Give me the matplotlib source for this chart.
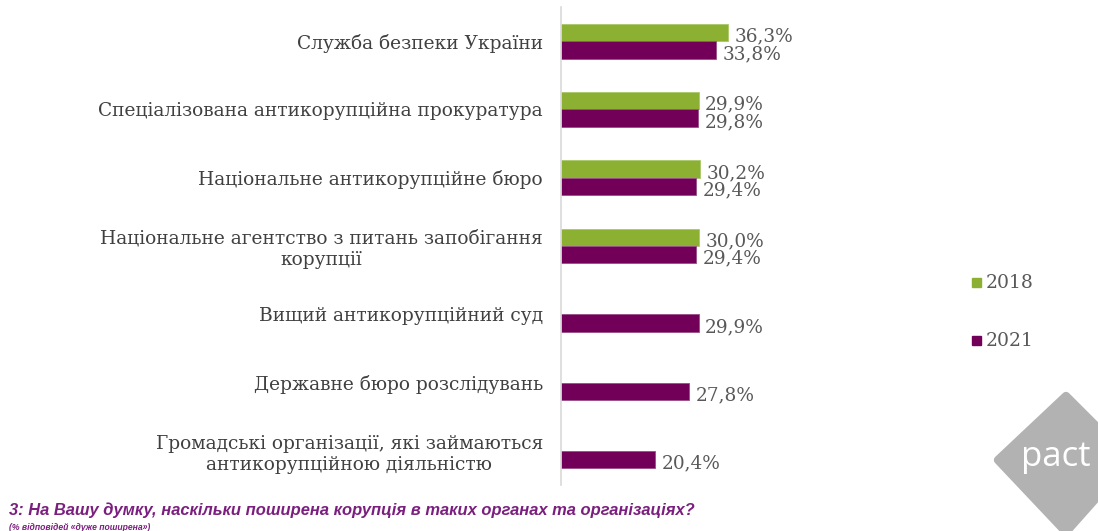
import matplotlib
matplotlib.use("Agg")
import matplotlib.pyplot as plt
from matplotlib.patches import Polygon, Rectangle
import numpy as np

categories = [
    "Служба безпеки України",
    "Спеціалізована антикорупційна прокуратура",
    "Національне антикорупційне бюро",
    "Національне агентство з питань запобігання\nкорупції",
    "Вищий антикорупційний суд",
    "Державне бюро розслідувань",
    "Громадські організації, які займаються\nантикорупційною діяльністю",
]
series_names = ["2018", "2021"]
values_2018 = [36.3, 29.9, 30.2, 30.0, None, None, None]
values_2021 = [33.8, 29.8, 29.4, 29.4, 29.9, 27.8, 20.4]
labels_2018 = ["36,3%", "29,9%", "30,2%", "30,0%", None, None, None]
labels_2021 = ["33,8%", "29,8%", "29,4%", "29,4%", "29,9%", "27,8%", "20,4%"]

GREEN = "#8CB032"
PURPLE = "#720058"
TEXT = "#404040"
NUM = "#595959"
SERIF = "DejaVu Serif"

W, H = 1098, 531
fig = plt.figure(figsize=(W / 100, H / 100), dpi=100)

# axes: x from 561px, 4.6 px per %, y rows ~68.3 px apart
x0 = 561
xmax = 60
ax = fig.add_axes([x0 / W, 1 - 485 / H, 4.6 * xmax / W, (485 - 7) / H])
ax.set_xlim(0, xmax)
ax.set_ylim(len(categories) - 0.5, -0.5)

bh = 0.256
y = np.arange(len(categories))
NUMSIZE = 13.3
for i in range(len(categories)):
    v18 = values_2018[i]
    v21 = values_2021[i]
    if v18 is not None:
        ax.barh(y[i] - bh / 2, v18, height=bh, color=GREEN, edgecolor="#a9c86a", linewidth=0.6)
        ax.text(v18 + 1.4, y[i] - bh / 2 + 0.06, labels_2018[i], va="center", ha="left",
                fontsize=NUMSIZE, color=NUM, family=SERIF)
    ax.barh(y[i] + bh / 2, v21, height=bh, color=PURPLE, edgecolor="#9a4c88", linewidth=0.6)
    ax.text(v21 + 1.4, y[i] + bh / 2 + 0.06, labels_2021[i], va="center", ha="left",
            fontsize=NUMSIZE, color=NUM, family=SERIF)

ax.set_yticks(y)
ax.set_yticklabels(categories, fontsize=13.4, color=TEXT, family=SERIF)
for lab in ax.get_yticklabels():
    lab.set_horizontalalignment("right")
    lab.set_multialignment("center")
ax.tick_params(axis="y", length=0, pad=13)
ax.set_xticks([])
for s in ["top", "right", "bottom"]:
    ax.spines[s].set_visible(False)
ax.spines["left"].set_color("#d9d9d9")
ax.spines["left"].set_linewidth(1.2)

# legend
for name, col, yy in [(series_names[0], GREEN, 283), (series_names[1], PURPLE, 341)]:
    fig.patches.append(Rectangle((972 / W, 1 - (yy + 4) / H), 9 / W, 9 / H,
                                 transform=fig.transFigure, color=col))
    fig.text(986 / W, 1 - yy / H, name, fontsize=13.5, color=NUM, family=SERIF,
             va="center", ha="left")

# pact logo
logo = Polygon([(998 / W, 1 - 460 / H), (1066 / W, 1 - 396 / H), (1130 / W, 1 - 460 / H),
                (1066 / W, 1 - 532 / H)], closed=True, transform=fig.transFigure,
               facecolor="#b2b2b2", edgecolor="#b2b2b2", linewidth=6, joinstyle="round")
fig.patches.append(logo)
fig.text(1056 / W, 1 - 457 / H, "pact", fontsize=25, color="white", family="Open Sans",
         ha="center", va="center")

# caption
fig.text(9 / W, 1 - 510 / H, "3: На Вашу думку, наскільки поширена корупція в таких органах та організаціях?",
         fontsize=11.9, color="#7B1F7F", family="Liberation Sans", weight="bold", style="italic",
         va="center", ha="left")
fig.text(9 / W, 1 - 528 / H, "(% відповідей «дуже поширена»)",
         fontsize=6.2, color="#7B1F7F", family="Liberation Sans", weight="bold", style="italic",
         va="center", ha="left")

fig.savefig("out.png", dpi=100)
